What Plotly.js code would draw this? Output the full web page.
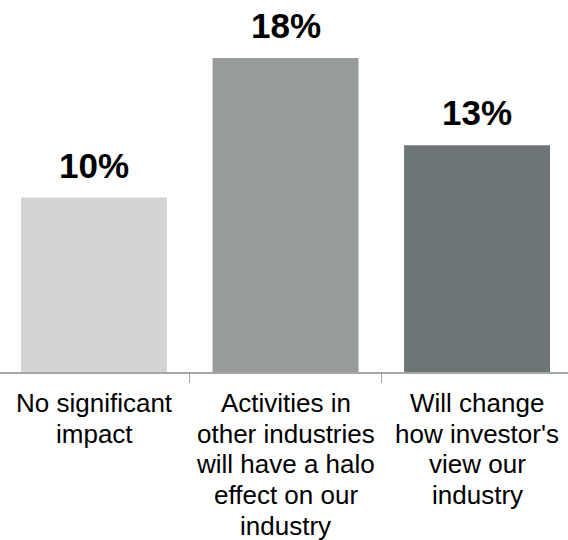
<!DOCTYPE html>
<html>
<head>
<meta charset="utf-8">
<script src="https://cdn.plot.ly/plotly-3.0.1.min.js"></script>
<style>html,body{margin:0;padding:0;background:#fff;} #chart{width:568px;height:540px;}</style>
</head>
<body>
<div id="chart"></div>
<script>
var categories = [
  "No significant<br>impact",
  "Activities in<br>other industries<br>will have a halo<br>effect on our<br>industry",
  "Will change<br>how investor's<br>view our<br>industry"
];
var values = [10, 18, 13];
var valueLabels = ["10%", "18%", "13%"];
var barColors = ["#D4D4D4", "#979C9B", "#6E7576"];

var FONT = "'Liberation Sans', Arial, sans-serif";

var annotations = [];
categories.forEach(function (cat, i) {
  annotations.push({
    x: cat, y: values[i], xref: "x", yref: "y",
    text: valueLabels[i], showarrow: false,
    xanchor: "center", yanchor: "bottom", yshift: 11,
    font: {family: FONT, size: 35, color: "#000000", weight: "bold"}
  });
  cat.split("<br>").forEach(function (line, j) {
    annotations.push({
      x: cat, y: 0, xref: "x", yref: "paper",
      text: line, showarrow: false,
      xanchor: "center", yanchor: "top", yshift: -14 - 30.7 * j,
      font: {family: FONT, size: 26, color: "#000000"}
    });
  });
});

var trace = {
  type: "bar",
  x: categories,
  y: values,
  marker: {color: barColors},
  hoverinfo: "none"
};

var layout = {
  width: 568, height: 540,
  margin: {l: 0, r: 0, t: 0, b: 168, pad: 0},
  paper_bgcolor: "#ffffff", plot_bgcolor: "#ffffff",
  showlegend: false,
  bargap: 0.238,
  xaxis: {
    type: "category",
    range: [-0.491, 2.475],
    showline: true, linecolor: "#A6A6A6", linewidth: 1.5,
    ticks: "outside", tickson: "boundaries", ticklen: 9, tickwidth: 1, tickcolor: "#A6A6A6",
    showticklabels: false, showgrid: false, zeroline: false, fixedrange: true
  },
  yaxis: {
    range: [0, 21.32],
    visible: false, showgrid: false, zeroline: false, fixedrange: true
  },
  annotations: annotations
};

Plotly.newPlot("chart", [trace], layout, {displayModeBar: false, staticPlot: true});
</script>
</body>
</html>
